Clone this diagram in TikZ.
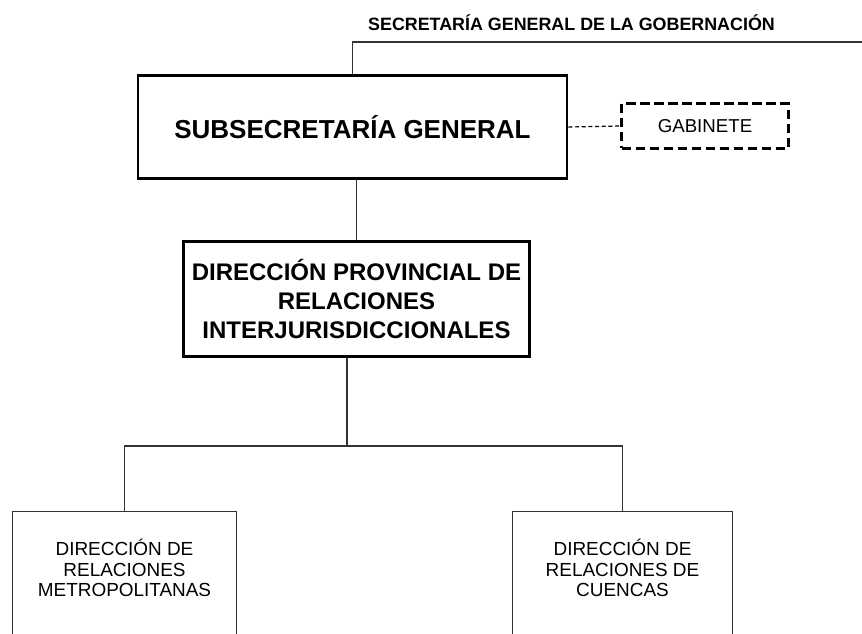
\documentclass[tikz,border=0pt]{standalone}
\usepackage{fontspec}
\setmainfont{Liberation Sans}
\begin{document}
\begin{tikzpicture}[x=0.75pt,y=-0.75pt]
\tikzstyle{every node}+=[inner sep=0pt]
\tikzstyle{thickbox}=[draw=black,line width=2.1pt,align=center,font=\bfseries]
\tikzstyle{dashbox}=[draw=black,line width=1.8pt,dash pattern=on 7pt off 3.5pt,font=\fontsize{14}{16}\selectfont]
\tikzstyle{thinline}=[draw=black!80,line width=0.8pt]
\tikzstyle{lowbox}=[thinline,anchor=north,minimum height=200pt]
\tikzstyle{lowtext}=[align=center,font=\fontsize{14.2}{15.2}\selectfont]
\clip (0,0) rectangle (862,633);
\node [font=\fontsize{13.4}{16}\selectfont\bfseries] (sgg) at (571.5,23) {SECRETARÍA GENERAL DE LA GOBERNACIÓN};
\coordinate (sggend) at (862,42);
\node [thickbox,minimum width=321.75pt,minimum height=77pt,font=\fontsize{19.5}{22}\selectfont\bfseries] (sub) at (352.5,127) {SUBSECRETARÍA GENERAL};
\node [dashbox,minimum width=125pt,minimum height=33.5pt] (gab) at (705,126) {GABINETE};
\node [thickbox,minimum width=260pt,minimum height=86pt,font=\fontsize{18}{21.5}\selectfont\bfseries] (dp) at (356.5,299) {DIRECCIÓN PROVINCIAL DE\\RELACIONES\\INTERJURISDICCIONALES};
\node [lowbox,minimum width=168pt] (met) at (124.5,511) {};
\node [lowtext] (mettext) at (124.5,568) {DIRECCIÓN DE\\RELACIONES\\METROPOLITANAS};
\node [lowbox,minimum width=165pt] (cue) at (622.5,511) {};
\node [lowtext] (cuetext) at (622.5,568) {DIRECCIÓN DE\\RELACIONES DE\\CUENCAS};
\coordinate (bus) at (347,446);
\draw [thinline] (sggend) -| (sub.north);
\draw [draw=black,line width=0.9pt,dash pattern=on 3pt off 2pt] (sub.east) -- (gab.west);
\draw [thinline] (dp.north) -- (dp.north |- sub.south);
\draw [thinline] (dp.south -| bus) -- (bus);
\draw [thinline] (met.north) |- (bus) -| (cue.north);
\end{tikzpicture}
\end{document}
